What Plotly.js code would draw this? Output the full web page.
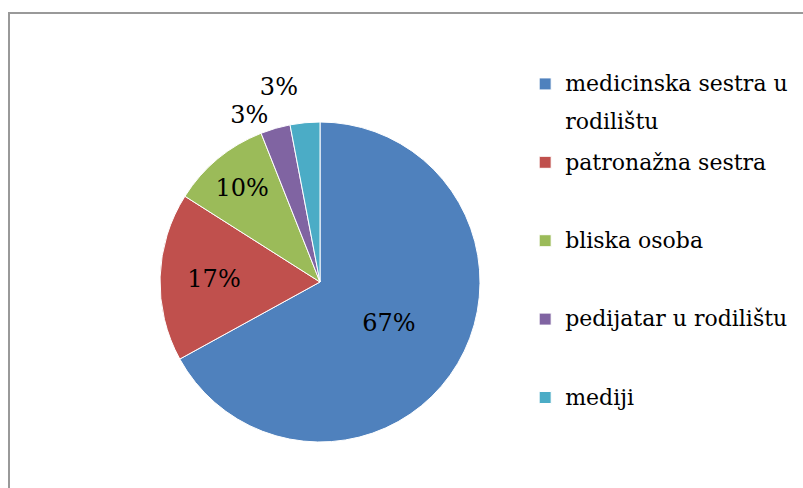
<!DOCTYPE html>
<html>
<head>
<meta charset="utf-8">
<script src="https://cdn.plot.ly/plotly-3.0.1.min.js"></script>
<style>html,body{margin:0;padding:0;background:#fff;}#chart{width:803px;height:488px;}</style>
</head>
<body>
<div id="chart"></div>
<script>
var categories = ["medicinska sestra u rodilištu", "patronažna sestra", "bliska osoba", "pedijatar u rodilištu", "mediji"];
var legendLines = [["medicinska sestra u", "rodilištu"], ["patronažna sestra"], ["bliska osoba"], ["pedijatar u rodilištu"], ["mediji"]];
var values = [67, 17, 10, 3, 3];
var valueLabels = ["67%", "17%", "10%", "3%", "3%"];
var colors = ["#4F81BD", "#C0504D", "#9BBB59", "#8064A2", "#4BACC6"];

// legend entries: visible text in smaller spans, a blank second line gives the spacing
var legendLabels = legendLines.map(function (lines) {
  var parts = lines.map(function (l) { return '<span style="font-size:22px;baseline-shift:4px">' + l + '</span>'; });
  if (parts.length < 2) parts.push('&nbsp;');
  return parts.join('<br>');
});

var trace = {
  type: "pie",
  labels: legendLabels,
  values: values,
  text: valueLabels,
  textinfo: "text",
  hovertext: categories,
  hoverinfo: "text+percent",
  sort: false,
  direction: "clockwise",
  rotation: 0,
  marker: {colors: colors, line: {color: "#ffffff", width: 1}},
  textposition: ["inside", "inside", "inside", "outside", "outside"],
  insidetextorientation: "horizontal",
  textfont: {family: "DejaVu Serif", size: 24, color: "#000000"},
  outsidetextfont: {family: "DejaVu Serif", size: 24, color: "#000000"},
  domain: {x: [160/803, 480/803], y: [46/488, 366/488]}
};

var layout = {
  width: 803, height: 488,
  margin: {l: 0, r: 0, t: 0, b: 0},
  paper_bgcolor: "#ffffff",
  showlegend: true,
  legend: {
    x: 0.654, y: 0.88, xanchor: "left", yanchor: "top",
    valign: "top",
    font: {family: "DejaVu Serif", size: 29, color: "#000000"},
    bgcolor: "rgba(0,0,0,0)"
  },
  shapes: [{
    type: "rect", xref: "paper", yref: "paper",
    x0: 9/803, x1: 1.02, y0: -0.05, y1: 1 - 13/488,
    line: {color: "#999999", width: 2}, fillcolor: "rgba(0,0,0,0)"
  }]
};

Plotly.newPlot("chart", [trace], layout, {displayModeBar: false}).then(function (gd) {
  var tl = gd.querySelectorAll("path.textline");
  for (var i = 0; i < tl.length; i++) tl[i].style.display = "none";
});
</script>
</body>
</html>
